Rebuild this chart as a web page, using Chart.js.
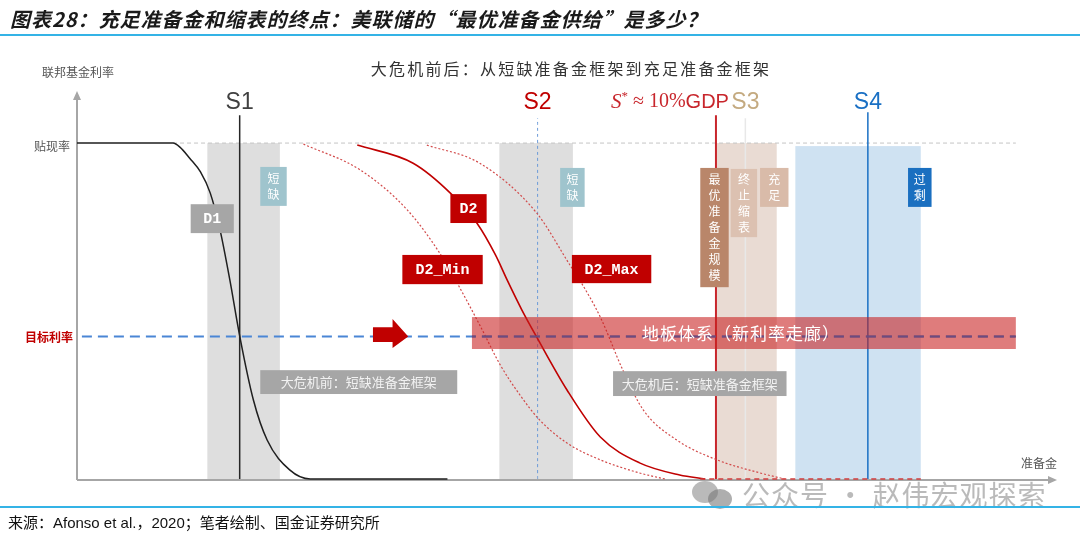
<!DOCTYPE html>
<html lang="zh">
<head>
<meta charset="UTF-8">
<title>充足准备金和缩表的终点</title>
<script src="https://cdn.jsdelivr.net/npm/chart.js@4"></script>
<style>
  * { box-sizing: border-box; margin: 0; padding: 0; }
  body { width: 1080px; height: 537px; background: #fff; overflow: hidden;
         font-family: 'Noto Sans CJK SC', sans-serif; }
  .page { position: relative; width: 1080px; height: 537px; }
  #chart { position: absolute; left: 0; top: 0; }
  .title { position: absolute; left: 10px; top: 7px; font-size: 20px; line-height: 24px; letter-spacing: 1px;
           font-weight: 700; font-style: italic; color: #1a1a1a; white-space: nowrap; }
  .rule { position: absolute; left: 0; width: 1080px; height: 2px; background: #34b3e6; }
  .subtitle { position: absolute; left: 355px; width: 432px; top: 57px; text-align: center;
              font-size: 16px; line-height: 22px; color: #333; letter-spacing: 2.2px; white-space: nowrap; }
  .source { position: absolute; left: 8px; top: 513px; font-size: 15px; line-height: 19px; color: #111;
            font-family: 'Liberation Sans', 'Noto Sans CJK SC', sans-serif; white-space: nowrap; }
  .mark { position: absolute; left: 742px; top: 476px; font-size: 28px; line-height: 36px; letter-spacing: 1px;
          color: rgba(140,140,140,0.6); white-space: nowrap; }
  .bubble { position: absolute; border-radius: 50%; background: rgba(140,140,140,0.6); }
</style>
</head>
<body>
<div class="page">
  <canvas id="chart" width="1080" height="537"></canvas>
  <div class="title">图表28：充足准备金和缩表的终点：美联储的“最优准备金供给”是多少？</div>
  <div class="rule" style="top:34px"></div>
  <div class="subtitle">大危机前后：从短缺准备金框架到充足准备金框架</div>
  <div class="bubble" style="left:692px;top:481px;width:26px;height:22px"></div>
  <div class="bubble" style="left:708px;top:489px;width:24px;height:20px;background:rgba(120,120,120,0.6)"></div>
  <div class="mark">公众号 · 赵伟宏观探索</div>
  <div class="rule" style="top:506px"></div>
  <div class="source">来源：Afonso et al.，2020；笔者绘制、国金证券研究所</div>
</div>
<script>
  // 利率水平（贴现率 = 100）
  const discountRate = 100;
  const targetRate = 42.4;

  // 需求曲线 D1（大危机前）
  const d1X = [0, 9.8, 10.5, 11.5, 12.6, 13.6, 14.6, 15.6, 16.6, 18.0, 19.4, 21.7, 23.8, 37.8];
  const d1Y = [100, 100, 98.8, 95.5, 91.4, 85.1, 74.1, 59.2, 42.6, 23.5, 11.6, 2.7, 0, 0];

  // 需求曲线 D2 及其上下限
  const d2X = [28.6, 34.3, 38.1, 40.8, 42.7, 43.9, 45.4, 46.9, 50.0, 53.4, 57.4, 61.5, 64.1];
  const d2Y = [99.4, 94.0, 85.1, 76.2, 66.7, 59.2, 50.3, 42.3, 26.5, 12.5, 4.8, 1.2, 0];
  const d2MinX = [23.1, 28.9, 33.7, 37.0, 38.8, 41.1, 43.2, 45.2, 47.2, 50.0, 53.4, 57.4, 60.0];
  const d2MinY = [99.7, 92.0, 80.1, 67.3, 58.3, 45.8, 33.9, 25.0, 17.6, 10.7, 5.7, 1.8, 0];
  const d2MaxX = [35.7, 41.1, 46.9, 50.3, 51.3, 53.4, 55.7, 57.8, 61.2, 65.3, 69.7, 72.2];
  const d2MaxY = [99.4, 94.0, 79.2, 63.7, 59.2, 48.2, 32.4, 20.5, 11.6, 5.7, 1.8, 0];
  const floorTailX = [63.6, 86.1];

  // 准备金供给
  const supplyNames = ['S1', 'S2', 'S*', 'S3', 'S4'];
  const supplyX = [16.6, 47.0, 65.2, 68.2, 80.7];
  const supplyTop = [108.3, 107.4, 108.3, 107.4, 109.2];

  // 区间
  const bandFrom = [13.3, 43.1, 65.2, 73.3];
  const bandTo = [20.7, 50.6, 71.4, 86.1];
  const bandTop = [100, 100, 100, 99.1];

  // 地板体系
  const floorFrom = 40.3, floorTo = 95.8, floorLow = 38.7, floorHigh = 48.2;

  const supplyStyle = [
    { color: '#262626', width: 1.5, dash: [], label: '#404040' },
    { color: '#6d9bd8', width: 1, dash: [3, 3], label: '#c00000' },
    { color: '#c8262c', width: 2, dash: [], label: '#c8262c' },
    { color: '#e8e8e8', width: 1.5, dash: [], label: '#c4aa80' },
    { color: '#1a70c4', width: 1.5, dash: [], label: '#1a70c4' }
  ];
  const bandColors = ['#dedede', '#dedede', '#e9dbd3', '#cfe2f2'];

  const tags = [
    { text: '短缺', x0: 18.7, x1: 21.4, y0: 81.3, y1: 92.9, bg: '#9fc4cd', vertical: true },
    { text: 'D1', x0: 11.6, x1: 16.0, y0: 73.2, y1: 81.8, bg: '#a6a6a6', mono: true },
    { text: 'D2', x0: 38.1, x1: 41.8, y0: 76.2, y1: 84.8, bg: '#c00000', mono: true },
    { text: 'D2_Min', x0: 33.2, x1: 41.4, y0: 58.0, y1: 66.7, bg: '#c00000', mono: true },
    { text: 'D2_Max', x0: 50.5, x1: 58.6, y0: 58.3, y1: 66.7, bg: '#c00000', mono: true },
    { text: '短缺', x0: 49.3, x1: 51.8, y0: 81.0, y1: 92.6, bg: '#9fc4cd', vertical: true },
    { text: '最优准备金规模', x0: 63.6, x1: 66.5, y0: 57.1, y1: 92.6, bg: '#b9866a', vertical: true },
    { text: '终止缩表', x0: 66.7, x1: 69.4, y0: 72.0, y1: 92.3, bg: '#dcc1b1', vertical: true },
    { text: '充足', x0: 69.7, x1: 72.6, y0: 81.0, y1: 92.6, bg: '#d9bba9', vertical: true },
    { text: '过剩', x0: 84.8, x1: 87.2, y0: 81.0, y1: 92.6, bg: '#1a6fc0', vertical: true },
    { text: '大危机前：短缺准备金框架', x0: 18.7, x1: 38.8, y0: 25.3, y1: 32.4, bg: '#a6a6a6' },
    { text: '大危机后：短缺准备金框架', x0: 54.7, x1: 72.4, y0: 24.7, y1: 32.1, bg: '#a6a6a6' }
  ];

  const pts = (xs, ys) => xs.map((x, i) => ({ x, y: ys[i] }));
  const curve = (xs, ys, color, width, dash) => ({
    data: pts(xs, ys), showLine: true, borderColor: color, borderWidth: width,
    borderDash: dash, cubicInterpolationMode: 'monotone', pointRadius: 0, clip: false
  });

  const datasets = [
    curve(d2MinX, d2MinY, '#d24a4a', 1.2, [2, 2]),
    curve(d2MaxX, d2MaxY, '#d24a4a', 1.2, [2, 2]),
    curve(floorTailX, [0, 0], '#d23c3c', 1.5, [5, 4]),
    curve(d2X, d2Y, '#c00000', 1.6, []),
    curve(d1X, d1Y, '#1f1f1f', 1.5, [])
  ];
  supplyX.forEach((x, i) => {
    const s = supplyStyle[i];
    datasets.push(curve([x, x], [0, supplyTop[i]], s.color, s.width, s.dash));
  });

  function hline(c, x0, x1, y, color, width, dash) {
    c.save();
    c.strokeStyle = color; c.lineWidth = width; c.setLineDash(dash);
    c.beginPath(); c.moveTo(x0, y); c.lineTo(x1, y); c.stroke();
    c.restore();
  }

  const backdrop = {
    id: 'backdrop',
    beforeDatasetsDraw(chart) {
      const c = chart.ctx, xs = chart.scales.x, ys = chart.scales.y;
      const X = v => xs.getPixelForValue(v), Y = v => ys.getPixelForValue(v);
      bandFrom.forEach((b, i) => {
        c.fillStyle = bandColors[i];
        c.fillRect(X(b), Y(bandTop[i]), X(bandTo[i]) - X(b), Y(0) - Y(bandTop[i]));
      });
      hline(c, X(9.8), X(floorTo), Y(discountRate), '#c4c4c4', 1, [4, 3]);
      hline(c, X(0.5), X(floorTo), Y(targetRate), '#4a86d5', 2, [10, 6]);

      // 坐标轴
      c.save();
      c.strokeStyle = '#a6a6a6'; c.fillStyle = '#a6a6a6'; c.lineWidth = 2;
      c.beginPath();
      c.moveTo(X(0), Y(0) + 1); c.lineTo(X(0), Y(115.5) + 6);
      c.moveTo(X(0), Y(0) + 1); c.lineTo(X(100) - 6, Y(0) + 1);
      c.stroke();
      c.beginPath();
      c.moveTo(X(0), Y(115.5)); c.lineTo(X(0) - 4, Y(115.5) + 9); c.lineTo(X(0) + 4, Y(115.5) + 9); c.closePath();
      c.moveTo(X(100), Y(0) + 1); c.lineTo(X(100) - 9, Y(0) - 3); c.lineTo(X(100) - 9, Y(0) + 5); c.closePath();
      c.fill();
      c.restore();
    }
  };

  const overlay = {
    id: 'overlay',
    afterDatasetsDraw(chart) {
      const c = chart.ctx, xs = chart.scales.x, ys = chart.scales.y;
      const X = v => xs.getPixelForValue(v), Y = v => ys.getPixelForValue(v);

      // 地板体系
      const fx = X(floorFrom), fy = Y(floorHigh), fw = X(floorTo) - fx, fh = Y(floorLow) - fy;
      c.save();
      c.fillStyle = 'rgba(200,30,30,0.58)';
      c.fillRect(fx, fy, fw, fh);
      c.beginPath(); c.rect(fx, fy, fw, fh); c.clip();
      hline(c, X(0.5), X(floorTo), Y(targetRate), '#6b4c80', 2, [10, 6]);
      c.restore();
      c.save();
      c.fillStyle = '#ffffff'; c.font = '17px "Noto Sans CJK SC"';
      c.letterSpacing = '1px';
      c.textAlign = 'left'; c.textBaseline = 'middle';
      c.fillText('地板体系（新利率走廊）', 642, Y(targetRate) - 3);
      c.restore();

      // 右移箭头
      c.save();
      c.fillStyle = '#c00000';
      c.beginPath();
      c.moveTo(X(30.2), Y(45.2)); c.lineTo(X(32.2), Y(45.2)); c.lineTo(X(32.2), Y(47.6));
      c.lineTo(X(33.8), Y(targetRate)); c.lineTo(X(32.2), Y(39.0)); c.lineTo(X(32.2), Y(40.8));
      c.lineTo(X(30.2), Y(40.8)); c.closePath(); c.fill();
      c.restore();

      // 标签框
      tags.forEach(t => {
        const x0 = X(t.x0), x1 = X(t.x1), y0 = Y(t.y1), y1 = Y(t.y0);
        c.save();
        c.fillStyle = t.bg; c.fillRect(x0, y0, x1 - x0, y1 - y0);
        c.fillStyle = '#ffffff'; c.textAlign = 'center'; c.textBaseline = 'middle';
        const cx = (x0 + x1) / 2, cy = (y0 + y1) / 2;
        if (t.vertical) {
          c.font = '12px "Noto Sans CJK SC"';
          const chars = [...t.text], lh = 16;
          chars.forEach((ch, k) => c.fillText(ch, cx, cy + (k - (chars.length - 1) / 2) * lh));
        } else if (t.mono) {
          c.font = 'bold 15px "Liberation Mono", "DejaVu Sans Mono", monospace';
          c.fillText(t.text, cx, cy + 1);
        } else {
          c.fillStyle = '#f2f2f2';
          c.font = '13px "Noto Sans CJK SC"';
          c.fillText(t.text, cx, cy);
        }
        c.restore();
      });

      // 供给标签
      c.save();
      c.textBaseline = 'middle'; c.textAlign = 'center';
      supplyNames.forEach((n, i) => {
        const x = X(supplyX[i]);
        c.fillStyle = supplyStyle[i].label;
        if (n === 'S*') {
          const parts = [
            { t: 'S', f: 'italic 21px "Liberation Serif", serif', dy: 0 },
            { t: '*', f: '13px "Liberation Serif", serif', dy: -6 },
            { t: ' ≈ 10%', f: '20px "Liberation Serif", serif', dy: 0 },
            { t: 'GDP', f: '20px "Liberation Sans Narrow", "Liberation Sans", sans-serif', dy: 0 }
          ];
          let w = 0;
          parts.forEach(p => { c.font = p.f; p.w = c.measureText(p.t).width; w += p.w; });
          let px = x + 13 - w;
          c.textAlign = 'left';
          parts.forEach(p => { c.font = p.f; c.fillText(p.t, px, Y(108.3) - 13 + p.dy); px += p.w; });
          c.textAlign = 'center';
        } else {
          c.font = '23px "Liberation Sans Narrow", "Liberation Sans", sans-serif';
          c.fillText(n, x, Y(108.3) - 13);
        }
      });
      c.restore();

      // 轴标签
      c.save();
      c.textBaseline = 'middle';
      c.fillStyle = '#555'; c.font = '12px "Noto Sans CJK SC"';
      c.textAlign = 'left';
      c.fillText('联邦基金利率', X(0) - 35, 72);
      c.textAlign = 'right';
      c.fillText('贴现率', X(0) - 7, Y(discountRate) + 3);
      c.fillStyle = '#c00000'; c.font = 'bold 12px "Noto Sans CJK SC"';
      c.fillText('目标利率', X(0) - 4, Y(targetRate) + 1);
      c.fillStyle = '#555'; c.font = '12px "Noto Sans CJK SC"';
      c.fillText('准备金', X(100), Y(0) - 16);
      c.restore();
    }
  };

  new Chart(document.getElementById('chart'), {
    type: 'scatter',
    data: { datasets },
    options: {
      responsive: false,
      animation: false,
      layout: { padding: { left: 77, right: 23, top: 91, bottom: 58 } },
      scales: {
        x: { type: 'linear', min: 0, max: 100, display: false },
        y: { type: 'linear', min: 0, max: 115.5, display: false }
      },
      plugins: { legend: { display: false }, tooltip: { enabled: false } }
    },
    plugins: [backdrop, overlay]
  });
</script>
</body>
</html>
